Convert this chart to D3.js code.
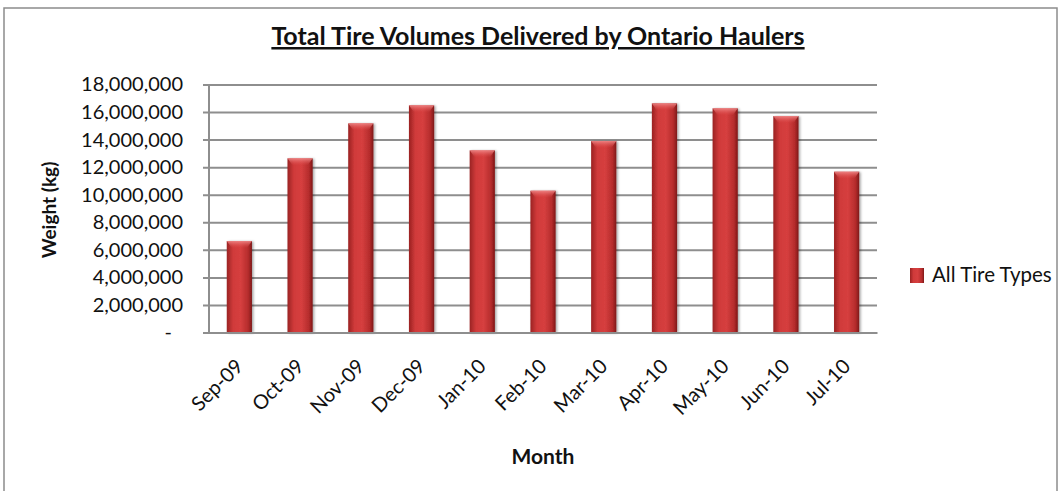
<!DOCTYPE html>
<html>
<head>
<meta charset="utf-8">
<script src="https://cdn.jsdelivr.net/npm/d3@7"></script>
<style>
  body { margin: 0; background: #fff; }
  svg { display: block; font-family: Lato, "Open Sans", sans-serif; }
</style>
</head>
<body>
<script>
// data
const months = ['Sep-09', 'Oct-09', 'Nov-09', 'Dec-09', 'Jan-10', 'Feb-10',
                'Mar-10', 'Apr-10', 'May-10', 'Jun-10', 'Jul-10'];
const volumes = [6640000, 12640000, 15180000, 16490000, 13220000, 10290000,
                 13900000, 16630000, 16270000, 15710000, 11670000];
const yTicks = [0, 2e6, 4e6, 6e6, 8e6, 10e6, 12e6, 14e6, 16e6, 18e6];
const seriesName = 'All Tire Types';

const W = 1061, H = 491;
const plot = { left: 209, right: 877, top: 84.5, bottom: 332.5 };
const FONT = 'Lato, "Open Sans", sans-serif';

const svg = d3.select('body').append('svg')
  .attr('width', W)
  .attr('height', H);

// gradients for the glossy bars
const defs = svg.append('defs');
const grad = defs.append('linearGradient')
  .attr('id', 'barGrad')
  .attr('x1', '0%').attr('x2', '100%').attr('y1', '0%').attr('y2', '0%');
grad.append('stop').attr('offset', '0%').attr('stop-color', '#9a2222');
grad.append('stop').attr('offset', '25%').attr('stop-color', '#d03a3a');
grad.append('stop').attr('offset', '55%').attr('stop-color', '#d63f3f');
grad.append('stop').attr('offset', '85%').attr('stop-color', '#b52c2c');
grad.append('stop').attr('offset', '100%').attr('stop-color', '#7e1818');

const capGrad = defs.append('linearGradient')
  .attr('id', 'capGrad')
  .attr('x1', '0%').attr('x2', '0%').attr('y1', '0%').attr('y2', '100%');
capGrad.append('stop').attr('offset', '0%').attr('stop-color', '#f08a8a').attr('stop-opacity', 0.9);
capGrad.append('stop').attr('offset', '100%').attr('stop-color', '#e05050').attr('stop-opacity', 0);

const shadow = defs.append('filter').attr('id', 'shadow')
  .attr('x', '-30%').attr('y', '-10%').attr('width', '160%').attr('height', '120%');
shadow.append('feDropShadow')
  .attr('dx', 1.5).attr('dy', 0.5).attr('stdDeviation', 1.2)
  .attr('flood-color', '#000').attr('flood-opacity', 0.35);

// outer chart border
svg.append('rect')
  .attr('x', 4).attr('y', 8)
  .attr('width', 1053).attr('height', 500)
  .attr('fill', 'none')
  .attr('stroke', '#8c8c8c')
  .attr('stroke-width', 1.5);

const x = d3.scaleBand()
  .domain(months)
  .range([plot.left, plot.right])
  .paddingInner(0.585)
  .paddingOuter(0.2925);

const y = d3.scaleLinear()
  .domain([0, 18e6])
  .range([plot.bottom, plot.top]);

// gridlines + y axis
const yAxis = svg.append('g')
  .attr('transform', `translate(${plot.left},0)`)
  .call(d3.axisLeft(y)
    .tickValues(yTicks)
    .tickSize(-(plot.right - plot.left))
    .tickPadding(26)
    .tickFormat(d => d === 0 ? '-' : d3.format(',')(d)))
  .attr('font-family', FONT)
  .attr('font-size', 20);
yAxis.select('.domain').remove();
yAxis.selectAll('.tick line')
  .attr('x1', -6)
  .attr('stroke', '#8e8e8e')
  .attr('stroke-width', 2);
yAxis.selectAll('.tick text')
  .attr('fill', '#111')
  .attr('dx', d => d === 0 ? -11 : 0);

// vertical axis line
svg.append('line')
  .attr('x1', plot.left).attr('x2', plot.left)
  .attr('y1', plot.top).attr('y2', plot.bottom)
  .attr('stroke', '#8e8e8e')
  .attr('stroke-width', 2);

// bars
const bars = svg.append('g').selectAll('g')
  .data(months.map((m, i) => ({ month: m, value: volumes[i] })))
  .join('g');

bars.append('rect')
  .attr('x', d => x(d.month))
  .attr('y', d => y(d.value))
  .attr('width', x.bandwidth())
  .attr('height', d => y(0) - y(d.value))
  .attr('fill', 'url(#barGrad)')
  .attr('filter', 'url(#shadow)');

bars.append('path')
  .attr('d', d => {
    const x0 = x(d.month), w = x.bandwidth(), t = y(d.value);
    return `M${x0},${t} L${x0 + w},${t} L${x0 + w - 5},${t + 7} L${x0 + 5},${t + 7} Z`;
  })
  .attr('fill', 'url(#capGrad)');

// x axis
const xAxis = svg.append('g')
  .attr('transform', `translate(0,${plot.bottom})`)
  .call(d3.axisBottom(x).tickSize(0).tickPadding(0))
  .attr('font-family', FONT)
  .attr('font-size', 20);
xAxis.select('.domain')
  .attr('stroke', '#8e8e8e')
  .attr('stroke-width', 2);
xAxis.selectAll('.tick text')
  .attr('fill', '#111')
  .attr('text-anchor', 'end')
  .attr('dy', 0)
  .attr('transform', 'translate(5,35) rotate(-45)');

// title
svg.append('text')
  .attr('x', 538)
  .attr('y', 45)
  .attr('text-anchor', 'middle')
  .attr('font-size', 25)
  .attr('font-weight', 'bold')
  .attr('text-decoration', 'underline')
  .attr('fill', '#111')
  .text('Total Tire Volumes Delivered by Ontario Haulers');

// axis titles
svg.append('text')
  .attr('x', 543)
  .attr('y', 464)
  .attr('text-anchor', 'middle')
  .attr('font-size', 21)
  .attr('font-weight', 'bold')
  .attr('fill', '#111')
  .text('Month');

svg.append('text')
  .attr('transform', 'translate(56,210) rotate(-90)')
  .attr('text-anchor', 'middle')
  .attr('font-size', 19)
  .attr('font-weight', 'bold')
  .attr('fill', '#111')
  .text('Weight (kg)');

// legend
const legend = svg.append('g').attr('transform', 'translate(910,268)');
legend.append('rect')
  .attr('width', 14).attr('height', 15)
  .attr('fill', 'url(#barGrad)');
legend.append('text')
  .attr('x', 22).attr('y', 14)
  .attr('font-size', 20.5)
  .attr('fill', '#111')
  .text(seriesName);
</script>
</body>
</html>
